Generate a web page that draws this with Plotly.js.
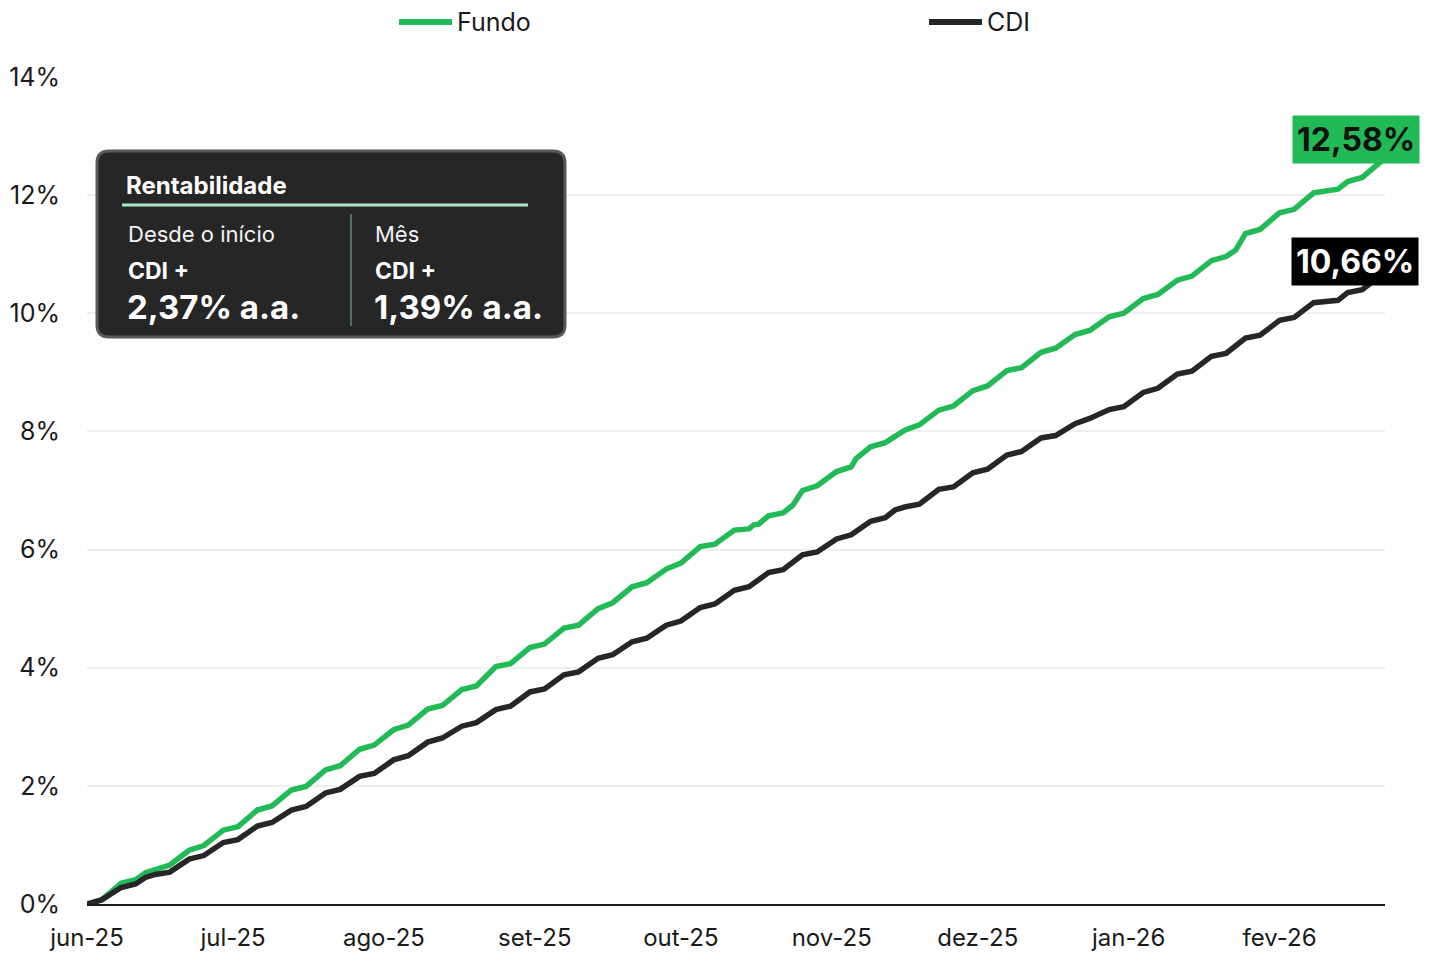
<!DOCTYPE html>
<html>
<head>
<meta charset="utf-8">
<script src="https://cdn.plot.ly/plotly-3.0.1.min.js"></script>
<style>
  html, body { margin: 0; padding: 0; background: #ffffff; }
  #chart { width: 1432px; height: 953px; }
</style>
</head>
<body>
<div id="chart"></div>
<script>
// ---------- DATA ----------
const fundoDates = [
  '2025-06-01','2025-06-04','2025-06-08','2025-06-11','2025-06-13','2025-06-15','2025-06-18','2025-06-22','2025-06-25','2025-06-29',
  '2025-07-02','2025-07-06','2025-07-09','2025-07-13','2025-07-16','2025-07-20','2025-07-23','2025-07-27','2025-07-30',
  '2025-08-03','2025-08-06','2025-08-10','2025-08-13','2025-08-17','2025-08-20','2025-08-24','2025-08-27','2025-08-31',
  '2025-09-03','2025-09-07','2025-09-10','2025-09-14','2025-09-17','2025-09-21','2025-09-24','2025-09-28',
  '2025-10-01','2025-10-05','2025-10-08','2025-10-12','2025-10-15','2025-10-16','2025-10-17','2025-10-19','2025-10-22','2025-10-24','2025-10-26','2025-10-29',
  '2025-11-02','2025-11-05','2025-11-06','2025-11-09','2025-11-12','2025-11-16','2025-11-19','2025-11-23','2025-11-26','2025-11-30',
  '2025-12-03','2025-12-07','2025-12-10','2025-12-14','2025-12-17','2025-12-21','2025-12-24','2025-12-28','2025-12-31',
  '2026-01-04','2026-01-07','2026-01-11','2026-01-14','2026-01-18','2026-01-21','2026-01-23','2026-01-25','2026-01-28',
  '2026-02-01','2026-02-04','2026-02-08','2026-02-13','2026-02-15','2026-02-18','2026-02-22'
];
const fundoValues = [
  0.00,0.07,0.35,0.41,0.53,0.59,0.66,0.91,0.99,1.25,
  1.31,1.59,1.66,1.93,1.99,2.27,2.34,2.62,2.69,
  2.95,3.03,3.30,3.36,3.63,3.69,4.02,4.07,4.34,
  4.40,4.67,4.72,5.00,5.10,5.37,5.44,5.67,
  5.77,6.05,6.09,6.33,6.35,6.42,6.43,6.57,6.62,6.75,7.00,7.08,
  7.32,7.40,7.54,7.74,7.81,8.02,8.11,8.36,8.43,8.69,
  8.77,9.03,9.08,9.34,9.41,9.64,9.71,9.94,10.00,
  10.25,10.32,10.56,10.63,10.89,10.96,11.07,11.35,11.42,
  11.70,11.76,12.04,12.10,12.23,12.30,12.58
];
const cdiDates = [
  '2025-06-01','2025-06-04','2025-06-08','2025-06-11','2025-06-13','2025-06-15','2025-06-18','2025-06-22','2025-06-25','2025-06-29',
  '2025-07-02','2025-07-06','2025-07-09','2025-07-13','2025-07-16','2025-07-20','2025-07-23','2025-07-27','2025-07-30',
  '2025-08-03','2025-08-06','2025-08-10','2025-08-13','2025-08-17','2025-08-20','2025-08-24','2025-08-27','2025-08-31',
  '2025-09-03','2025-09-07','2025-09-10','2025-09-14','2025-09-17','2025-09-21','2025-09-24','2025-09-28',
  '2025-10-01','2025-10-05','2025-10-08','2025-10-12','2025-10-15','2025-10-19','2025-10-22','2025-10-26','2025-10-29',
  '2025-11-02','2025-11-05','2025-11-09','2025-11-12','2025-11-14','2025-11-16','2025-11-19','2025-11-23','2025-11-26','2025-11-30',
  '2025-12-03','2025-12-07','2025-12-10','2025-12-14','2025-12-17','2025-12-21','2025-12-24','2025-12-28','2025-12-31',
  '2026-01-04','2026-01-07','2026-01-11','2026-01-14','2026-01-18','2026-01-21','2026-01-25','2026-01-28',
  '2026-02-01','2026-02-04','2026-02-08','2026-02-13','2026-02-15','2026-02-18','2026-02-22'
];
const cdiValues = [
  0.00,0.07,0.28,0.34,0.45,0.50,0.54,0.76,0.82,1.04,
  1.09,1.32,1.38,1.59,1.65,1.88,1.94,2.16,2.21,
  2.44,2.51,2.74,2.81,3.01,3.07,3.29,3.35,3.59,
  3.64,3.88,3.93,4.16,4.22,4.44,4.50,4.72,
  4.79,5.02,5.08,5.31,5.37,5.61,5.66,5.91,5.96,
  6.18,6.25,6.48,6.54,6.67,6.72,6.77,7.02,7.06,7.30,
  7.36,7.60,7.66,7.89,7.93,8.13,8.22,8.37,8.42,
  8.66,8.73,8.97,9.02,9.27,9.32,9.58,9.63,
  9.88,9.93,10.18,10.22,10.35,10.40,10.66
];
const monthTicks = ['2025-06-01','2025-07-01','2025-08-01','2025-09-01','2025-10-01','2025-11-01','2025-12-01','2026-01-01','2026-02-01'];
const monthLabels = ['jun-25','jul-25','ago-25','set-25','out-25','nov-25','dez-25','jan-26','fev-26'];
const seriesNames = ['Fundo','CDI'];
const fundoLabel = '12,58%';
const cdiLabel = '10,66%';
const boxTitle = 'Rentabilidade';
const leftHead = 'Desde o início';
const rightHead = 'Mês';
const leftSub = 'CDI +';
const rightSub = 'CDI +';
const leftValue = '2,37% a.a.';
const rightValue = '1,39% a.a.';

// ---------- STYLE / LAYOUT ----------
const GREEN = '#21BA57';
const DARK = '#262626';
const FONT = 'Inter, "Open Sans", sans-serif';

const L = 87, T = 77, W = 1298, H = 827;
const px = x => (x - L) / W;
const py = y => (T + H - y) / H;

function roundRect(x0, y0, x1, y1, r) {
  const p = (x, y) => px(x) + ',' + py(y);
  return 'M' + p(x0 + r, y0) + ' L' + p(x1 - r, y0) + ' Q' + p(x1, y0) + ' ' + p(x1, y0 + r) +
         ' L' + p(x1, y1 - r) + ' Q' + p(x1, y1) + ' ' + p(x1 - r, y1) +
         ' L' + p(x0 + r, y1) + ' Q' + p(x0, y1) + ' ' + p(x0, y1 - r) +
         ' L' + p(x0, y0 + r) + ' Q' + p(x0, y0) + ' ' + p(x0 + r, y0) + ' Z';
}

const traces = [
  { x: fundoDates, y: fundoValues, name: seriesNames[0], type: 'scatter', mode: 'lines',
    line: { color: GREEN, width: 5.5, shape: 'linear' }, hoverinfo: 'skip', showlegend: false },
  { x: cdiDates, y: cdiValues, name: seriesNames[1], type: 'scatter', mode: 'lines',
    line: { color: DARK, width: 5.5, shape: 'linear' }, hoverinfo: 'skip', showlegend: false }
];

function txt(x, y, text, size, bold, color) {
  return { xref: 'paper', yref: 'paper', x: px(x), y: py(y), xanchor: 'left', yanchor: 'middle',
           text: bold ? '<b>' + text + '</b>' : text, showarrow: false,
           font: { family: FONT, size: size, color: color || '#ffffff' } };
}

const lastF = fundoDates.length - 1;
const lastC = cdiDates.length - 1;

const layout = {
  width: 1432, height: 953,
  margin: { l: L, r: 1432 - L - W, t: T, b: 953 - T - H, pad: 0, autoexpand: false },
  paper_bgcolor: '#ffffff', plot_bgcolor: '#ffffff',
  font: { family: FONT, size: 24, color: '#1a1a1a' },
  showlegend: false,
  xaxis: {
    type: 'date', range: ['2025-06-01', '2026-02-22 16:00'],
    tickmode: 'array', tickvals: monthTicks, ticktext: monthLabels,
    showgrid: false, zeroline: false, showline: true, linecolor: '#1a1a1a', linewidth: 2,
    ticks: '', ticklabelstandoff: 11,
    tickfont: { family: FONT, size: 24, color: '#1a1a1a' }, fixedrange: true
  },
  yaxis: {
    range: [0, 14], tickmode: 'linear', tick0: 0, dtick: 2, ticksuffix: '%',
    showgrid: true, gridcolor: '#eeeeee', gridwidth: 2, zeroline: false, showline: false,
    ticks: '', ticklabelstandoff: 26,
    tickfont: { family: FONT, size: 25, color: '#1a1a1a' }, fixedrange: true
  },
  shapes: [
    // legend swatches
    { type: 'line', xref: 'paper', yref: 'paper', x0: px(399), x1: px(452), y0: py(22), y1: py(22),
      line: { color: GREEN, width: 6 } },
    { type: 'line', xref: 'paper', yref: 'paper', x0: px(929), x1: px(982), y0: py(22), y1: py(22),
      line: { color: DARK, width: 6 } },
    // info box
    { type: 'path', xref: 'paper', yref: 'paper', path: roundRect(97, 151, 565, 337, 12),
      fillcolor: '#262626', line: { color: '#595959', width: 3 }, layer: 'above' },
    { type: 'line', xref: 'paper', yref: 'paper', x0: px(122), x1: px(528), y0: py(205), y1: py(205),
      line: { color: '#A9E8C2', width: 3 }, layer: 'above' },
    { type: 'line', xref: 'paper', yref: 'paper', x0: px(351), x1: px(351), y0: py(214), y1: py(326),
      line: { color: 'rgba(150,220,180,0.55)', width: 1.5 }, layer: 'above' }
  ],
  annotations: [
    // legend labels
    txt(455, 22, seriesNames[0], 25, false, '#1a1a1a'),
    txt(985, 22, seriesNames[1], 25, false, '#1a1a1a'),
    // info box texts
    txt(124, 185, boxTitle, 24, true),
    txt(126, 234, leftHead, 22, false, '#f2f2f2'),
    txt(126, 271, leftSub, 23, true),
    txt(125, 307, leftValue, 33, true),
    txt(373, 234, rightHead, 22, false, '#f2f2f2'),
    txt(373, 271, rightSub, 23, true),
    txt(372, 307, rightValue, 33, true),
    // end labels
    { x: fundoDates[lastF], y: fundoValues[lastF], xref: 'x', yref: 'y', showarrow: false,
      text: '<b>' + fundoLabel + '</b>', xanchor: 'center', yanchor: 'bottom', xshift: -26, yshift: -3,
      bgcolor: GREEN, borderpad: 4, font: { family: FONT, size: 32, color: '#111111' } },
    { x: cdiDates[lastC], y: cdiValues[lastC], xref: 'x', yref: 'y', showarrow: false,
      text: '<b>' + cdiLabel + '</b>', xanchor: 'center', yanchor: 'bottom', xshift: -27, yshift: -12,
      bgcolor: '#000000', borderpad: 4, font: { family: FONT, size: 32, color: '#ffffff' } }
  ]
};

Plotly.newPlot('chart', traces, layout, { displayModeBar: false, staticPlot: true });
</script>
</body>
</html>
